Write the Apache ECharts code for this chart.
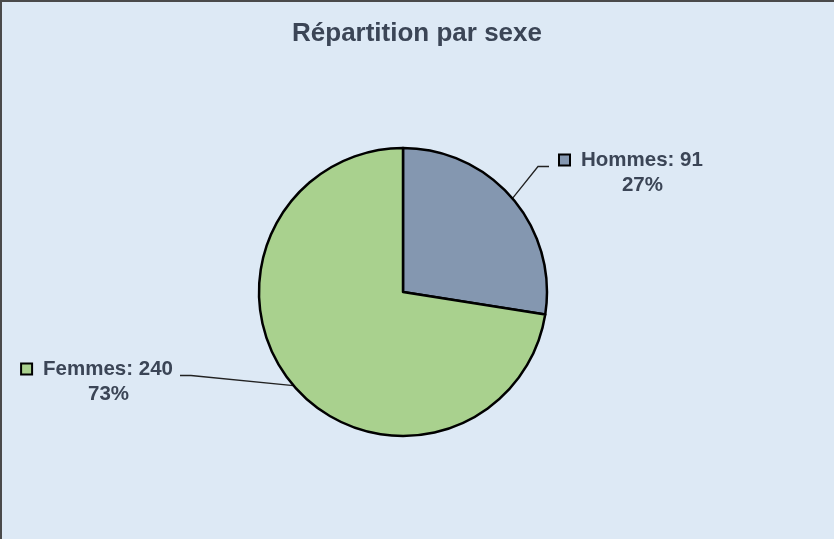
<!DOCTYPE html>
<html>
<head>
<meta charset="utf-8">
<script src="https://cdn.jsdelivr.net/npm/echarts@6/dist/echarts.min.js"></script>
<style>
html,body{margin:0;padding:0;background:#dde9f5;}
#wrap{position:relative;width:834px;height:539px;}
#chart{position:absolute;left:0;top:0;width:834px;height:539px;}
#frame{position:absolute;left:0;top:0;width:832px;height:537px;border-left:2px solid #4a4a4a;border-top:2px solid #4a4a4a;pointer-events:none;}
</style>
</head>
<body>
<div id="wrap"><div id="chart"></div><div id="frame"></div></div>
<script>
const titleText = 'Répartition par sexe';
const categories = ['Hommes', 'Femmes'];
const values = [91, 240];
const colors = ['#8497b0', '#a9d18e'];

const FONT = '"Liberation Sans", Arial, sans-serif';
const TEXT = '#3b4556';

const baseText = { align: 'center', fontFamily: FONT, fontWeight: 'bold', fontSize: 20.5, color: TEXT, lineHeight: 25 };
const rich = {
  sp: { align: 'center', width: 1, height: 10, lineHeight: 10, fontSize: 8 },
  t: Object.assign({}, baseText, { padding: [0, 0, 0, 12] }),
  p0: Object.assign({}, baseText, { padding: [0, 0, 0, 33] }),
  p1: Object.assign({}, baseText, { padding: [0, 0, 0, 15] }),
  gl: { align: 'center', width: 11, height: 1, lineHeight: 25 },
  gr: { align: 'center', width: 7, height: 1, lineHeight: 25 }
};
colors.forEach((c, i) => {
  rich['sq' + i] = { align: 'center', width: 9, height: 9, backgroundColor: c, borderColor: '#000', borderWidth: 2, lineHeight: 25 };
});

const chart = echarts.init(document.getElementById('chart'));
chart.setOption({
  backgroundColor: '#dde9f5',
  animation: false,
  title: {
    text: titleText,
    left: 'center',
    top: 16,
    textStyle: { fontFamily: FONT, fontWeight: 'bold', fontSize: 26, color: TEXT }
  },
  series: [{
    type: 'pie',
    center: [403, 292],
    radius: 144,
    startAngle: 90,
    clockwise: true,
    emphasis: { disabled: true },
    itemStyle: { borderColor: '#000', borderWidth: 2.5 },
    data: categories.map((n, i) => ({ name: n, value: values[i], itemStyle: { color: colors[i] } })),
    label: {
      show: true,
      position: 'outside',
      align: 'center',
      formatter: p => {
        const i = p.dataIndex;
        const pre = i === 0 ? '{gl|}' : '';
        const post = i === 0 ? '' : '{gr|}';
        return `{sp|}\n${pre}{sq${i}|}{t|${p.name}: ${p.value}}${post}\n{p${i}|${Math.round(p.percent)}%}`;
      },
      rich: rich
    },
    labelLine: {
      show: true,
      length: 30,
      length2: 11,
      lineStyle: { color: '#222', width: 1.3 }
    },
    labelLayout: function (params) {
      if (params.dataIndex === 0) {
        return { x: 549, y: 137.5, align: 'left', verticalAlign: 'top' };
      }
      return { x: 180, y: 346.5, align: 'right', verticalAlign: 'top' };
    }
  }]
});
</script>
</body>
</html>
